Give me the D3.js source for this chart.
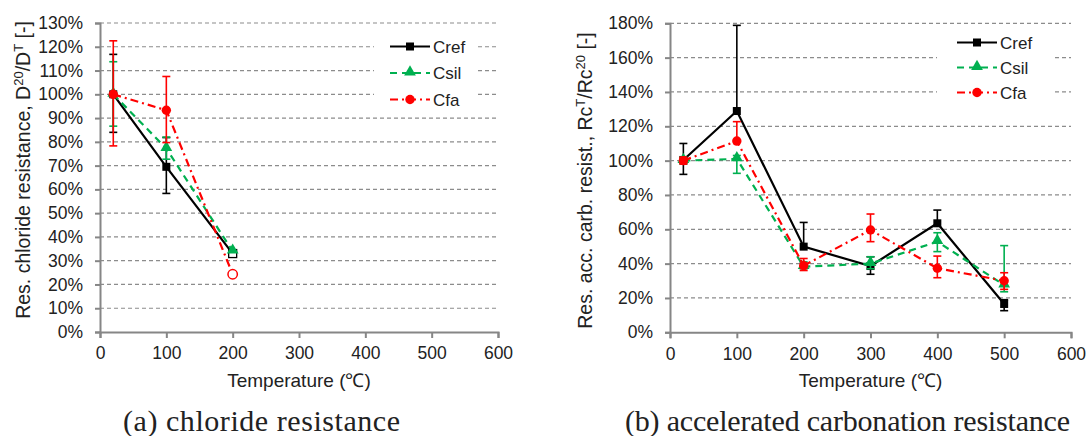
<!DOCTYPE html>
<html>
<head>
<meta charset="utf-8">
<script src="https://cdn.jsdelivr.net/npm/d3@7"></script>
<style>
  body { margin: 0; background: #fff; }
  text { font-family: "Liberation Sans", Arial, sans-serif; fill: #222; }
</style>
</head>
<body>
<svg width="1087" height="436"></svg>
<script>
// ---- data: (a) chloride resistance ----
var tempsA = [20, 100, 200];
var crefA = [100, 69.5, 33];
var crefAlo = [84, 58.3, null];
var crefAhi = [116.8, 81.8, null];
var csilA = [100, 77.2, 34];
var csilAlo = [86.6, 72.7, null];
var csilAhi = [113.7, 82, null];
var cfaA = [100, 93.3, 24.3];
var cfaAlo = [78.3, 79.7, null];
var cfaAhi = [122.5, 107.5, null];
var openA = [false, false, true];

// ---- data: (b) accelerated carbonation resistance ----
var tempsB = [20, 100, 200, 300, 400, 500];
var crefB = [100.4, 128.9, 49.9, 38.6, 63.5, 16.5];
var crefBlo = [92, null, null, 33.8, null, 12.6];
var crefBhi = [110, 178.8, 64, 44, 71.2, 19];
var csilB = [100, 101, 38.2, 40, 52.8, 27.5];
var csilBlo = [98, 92.6, 37, 37, 47, 23.6];
var csilBhi = [102, 103, 41, 44, 58, 50.5];
var cfaB = [100, 111.4, 38.8, 59.6, 37.3, 30];
var cfaBlo = [98, null, 36, 52.8, 31.8, 25];
var cfaBhi = [102, 122.7, 43, 68.9, 44.4, 34.7];

var xTicks = [0, 100, 200, 300, 400, 500, 600];
var yTicksA = d3.range(0, 131, 10);
var yTicksB = d3.range(0, 181, 20);
var names = ["Cref", "Csil", "Cfa"];

var svg = d3.select("svg");
var colors = { Cref: "#000000", Csil: "#00b050", Cfa: "#ff0000" };
var dashes = { Cref: null, Csil: "7,5", Cfa: "8,4,2,4" };

function panel(opt) {
  var g = svg.append("g");
  var x = d3.scaleLinear().domain([0, 600]).range([opt.left, opt.right]);
  var y = d3.scaleLinear().domain([0, opt.ymax]).range([opt.bottom, opt.top]);

  // gridlines
  g.selectAll(".grid").data(opt.yTicks.filter(function (d) { return d > 0; }))
    .enter().append("line")
    .attr("x1", opt.left).attr("x2", opt.right)
    .attr("y1", function (d) { return y(d); }).attr("y2", function (d) { return y(d); })
    .attr("stroke", "#8c8c8c").attr("stroke-width", 1.2).attr("stroke-dasharray", "4,3");

  // axes
  var xAxis = d3.axisBottom(x).tickValues(opt.xTicks).tickSize(6).tickPadding(9);
  var gx = g.append("g").attr("transform", "translate(0," + opt.bottom + ")").call(xAxis);
  var yAxis = d3.axisLeft(y).tickValues(opt.yTicks).tickSize(5).tickPadding(12)
    .tickFormat(function (d) { return d + "%"; });
  var gy = g.append("g").attr("transform", "translate(" + opt.left + ",0)").call(yAxis);
  [gx, gy].forEach(function (a) {
    a.select(".domain").attr("stroke", "#868686").attr("stroke-width", 2);
    a.selectAll(".tick line").attr("stroke", "#868686").attr("stroke-width", 2);
    a.selectAll(".tick text").attr("font-size", 17.5).attr("fill", "#222")
      .style("font-family", "Liberation Sans, Arial, sans-serif");
  });

  // axis titles
  g.append("text").attr("x", (opt.left + opt.right) / 2).attr("y", opt.bottom + 55)
    .attr("text-anchor", "middle").attr("font-size", 19).text("Temperature (\u2103)");
  var yl = g.append("text")
    .attr("transform", "translate(" + opt.ylabX + "," + opt.ylabY + ") rotate(-90)")
    .attr("text-anchor", "middle").attr("font-size", 19.5);
  opt.ylabel.forEach(function (p) {
    var t = yl.append("tspan").text(p[0]);
    if (p[1]) t.attr("baseline-shift", "super").attr("font-size", 13);
  });

  // caption
  svg.append("text").attr("x", opt.capX).attr("y", 431).attr("text-anchor", "middle")
    .style("font-family", "Liberation Serif, serif").attr("font-size", 30).attr("fill", "#111")
    .attr("textLength", opt.capW).attr("lengthAdjust", "spacing")
    .text(opt.caption);

  // series
  opt.series.forEach(function (s) {
    var col = colors[s.name];
    var pts = opt.temps.map(function (t, i) { return { t: t, v: s.v[i], lo: s.lo[i], hi: s.hi[i], i: i }; });
    // error bars
    pts.forEach(function (p) {
      [p.lo, p.hi].forEach(function (e) {
        if (e == null) return;
        g.append("line").attr("x1", x(p.t)).attr("x2", x(p.t)).attr("y1", y(p.v)).attr("y2", y(e))
          .attr("stroke", col).attr("stroke-width", 1.6);
        g.append("line").attr("x1", x(p.t) - 4).attr("x2", x(p.t) + 4).attr("y1", y(e)).attr("y2", y(e))
          .attr("stroke", col).attr("stroke-width", 1.6);
      });
    });
    var line = d3.line().x(function (p) { return x(p.t); }).y(function (p) { return y(p.v); });
    g.append("path").datum(pts).attr("d", line).attr("fill", "none")
      .attr("stroke", col).attr("stroke-width", 2.2)
      .attr("stroke-dasharray", dashes[s.name]);
    pts.forEach(function (p) {
      var open = opt.open && opt.open[p.i] && s.name !== "Csil";
      marker(g, s.name, x(p.t), y(p.v), open);
    });
  });

  // legend
  var L = opt.legend;
  g.append("rect").attr("x", L.bx).attr("y", L.by).attr("width", L.bw).attr("height", L.bh).attr("fill", "#fff");
  names.forEach(function (n, i) {
    var yy = L.y0 + i * L.dy;
    g.append("line").attr("x1", L.x0).attr("x2", L.x0 + 40).attr("y1", yy).attr("y2", yy)
      .attr("stroke", colors[n]).attr("stroke-width", 2.2).attr("stroke-dasharray", dashes[n]);
    marker(g, n, L.x0 + 20, yy, false);
    g.append("text").attr("x", L.x0 + 43).attr("y", yy + 6).attr("font-size", 17).text(n);
  });
}

function marker(g, name, cx, cy, open) {
  var col = colors[name];
  if (name === "Cref") {
    g.append("rect").attr("x", cx - 4).attr("y", cy - 4).attr("width", 8).attr("height", 8)
      .attr("fill", open ? "#fff" : col).attr("stroke", col).attr("stroke-width", open ? 1.3 : 0);
  } else if (name === "Csil") {
    g.append("path").attr("d", d3.symbol().type(d3.symbolTriangle).size(60)())
      .attr("transform", "translate(" + cx + "," + (cy - 1) + ")").attr("fill", col);
  } else {
    g.append("circle").attr("cx", cx).attr("cy", cy).attr("r", 4.7)
      .attr("fill", open ? "#fff" : col).attr("stroke", col).attr("stroke-width", open ? 1.5 : 0);
  }
}

panel({
  left: 100, right: 498, top: 23, bottom: 332, ymax: 130,
  temps: tempsA, xTicks: xTicks, yTicks: yTicksA, open: openA,
  ylabX: 29.5, ylabY: 170, capX: 261.5, capW: 277, caption: "(a) chloride resistance",
  ylabel: [["Res. chloride resistance, D"], ["20", true], ["/D"], ["T", true], [" [-]"]],
  series: [
    { name: "Cref", v: crefA, lo: crefAlo, hi: crefAhi },
    { name: "Csil", v: csilA, lo: csilAlo, hi: csilAhi },
    { name: "Cfa", v: cfaA, lo: cfaAlo, hi: cfaAhi }
  ],
  legend: { bx: 374, by: 34, bw: 104, bh: 76, x0: 390, y0: 46.5, dy: 26.5 }
});

panel({
  left: 670, right: 1071, top: 23.3, bottom: 332.3, ymax: 180,
  temps: tempsB, xTicks: xTicks, yTicks: yTicksB,
  ylabX: 592, ylabY: 180.5, capX: 847.5, capW: 445, caption: "(b) accelerated carbonation resistance",
  ylabel: [["Res. acc. carb. resist., Rc"], ["T", true], ["/Rc"], ["20", true], [" [-]"]],
  series: [
    { name: "Cref", v: crefB, lo: crefBlo, hi: crefBhi },
    { name: "Csil", v: csilB, lo: csilBlo, hi: csilBhi },
    { name: "Cfa", v: cfaB, lo: cfaBlo, hi: cfaBhi }
  ],
  legend: { bx: 937, by: 30, bw: 116, bh: 76, x0: 957, y0: 42.5, dy: 25 }
});
</script>
</body>
</html>
